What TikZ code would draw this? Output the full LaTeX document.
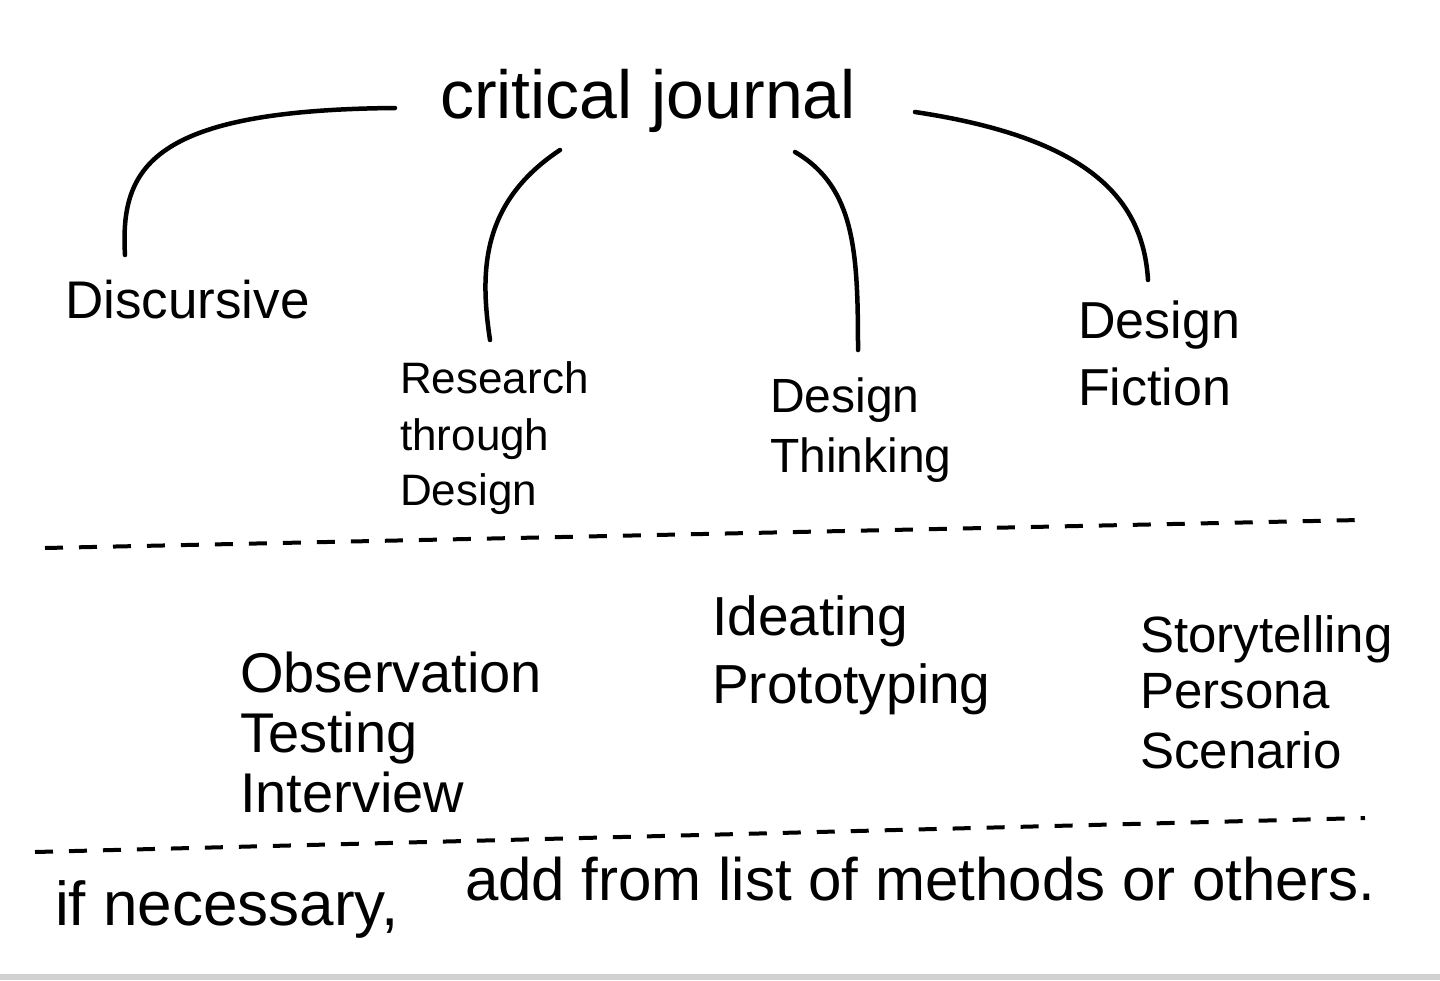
\documentclass[tikz,border=0pt]{standalone}
\usepackage{fontspec}
\setmainfont{Liberation Sans}
\usetikzlibrary{calc}
\tikzset{
  hand/.style={anchor=base west, inner sep=0pt, text=black},
  link/.style={line width=4.5pt, line cap=round, black},
  sep/.style={line width=4pt, dash pattern=on 18pt off 16pt, black},
}
\newcommand{\fs}[1]{\fontsize{#1}{#1}\selectfont}
\begin{document}
\begin{tikzpicture}[x=1pt,y=-1pt]
\useasboundingbox (0,0) rectangle (1440,980);
\fill[white] (0,0) rectangle (1440,980);
\fill[black!18] (0,974) rectangle (1440,980);

% title
\node[hand, font=\fs{68}] (cj) at (440,118) {critical journal};

% level 1
\node[hand, font=\fs{53}] (disc) at (65,318) {Discursive};

\node[hand, font=\fs{44}] (rtd1) at (400,393) {Research};
\node[hand, font=\fs{44}] (rtd2) at (400,450) {through};
\node[hand, font=\fs{44}] (rtd3) at (400,505) {Design};

\node[hand, font=\fs{48}] (dt1) at (770,412) {Design};
\node[hand, font=\fs{48}] (dt2) at (770,472) {Thinking};

\node[hand, font=\fs{52}] (df1) at (1078,338) {Design};
\node[hand, font=\fs{52}] (df2) at (1078,405) {Fiction};

% connectors
\draw[link] ($(cj.base west)+(-45,-10)$) .. controls ($(cj.base west)+(-290,-8)$) and ($(disc.base west)+(55,-150)$) .. ($(disc.base west)+(60,-63)$);
\draw[link] ($(cj.base west)+(120,32)$) .. controls ($(rtd1.base west)+(80,-190)$) and ($(rtd1.base west)+(80,-120)$) .. ($(rtd1.base west)+(90,-53)$);
\draw[link] ($(cj.base west)+(355,34)$) .. controls ($(dt1.base west)+(85,-225)$) and ($(dt1.base west)+(88,-160)$) .. ($(dt1.base west)+(88,-62)$);
\draw[link] ($(cj.base west)+(475,-6)$) .. controls ($(df1.base west)+(10,-200)$) and ($(df1.base west)+(65,-140)$) .. ($(df1.base west)+(70,-58)$);

% separator 1
\coordinate (s1a) at (45,548);
\coordinate (s1b) at (1360,520);
\draw[sep] (s1a) -- (s1b);

% methods
\node[hand, font=\fs{56}] (m1) at (240,692) {Observation};
\node[hand, font=\fs{56}] (m2) at (240,752) {Testing};
\node[hand, font=\fs{56}] (m3) at (240,812) {Interview};

\node[hand, font=\fs{55}] (i1) at (712,635) {Ideating};
\node[hand, font=\fs{55}] (i2) at (712,703) {Prototyping};

\node[hand, font=\fs{51}] (s1) at (1140,652) {Storytelling};
\node[hand, font=\fs{51}] (s2) at (1140,708) {Persona};
\node[hand, font=\fs{51}] (s3) at (1140,768) {Scenario};

% separator 2
\coordinate (s2a) at (35,852);
\coordinate (s2b) at (1365,818);
\draw[sep] (s2a) -- (s2b);

% bottom note
\node[hand, font=\fs{62}] (n1) at (55,925) {if necessary,};
\node[hand, font=\fs{60}] (n2) at (465,900) {add from list of methods or others.};
\end{tikzpicture}
\end{document}
